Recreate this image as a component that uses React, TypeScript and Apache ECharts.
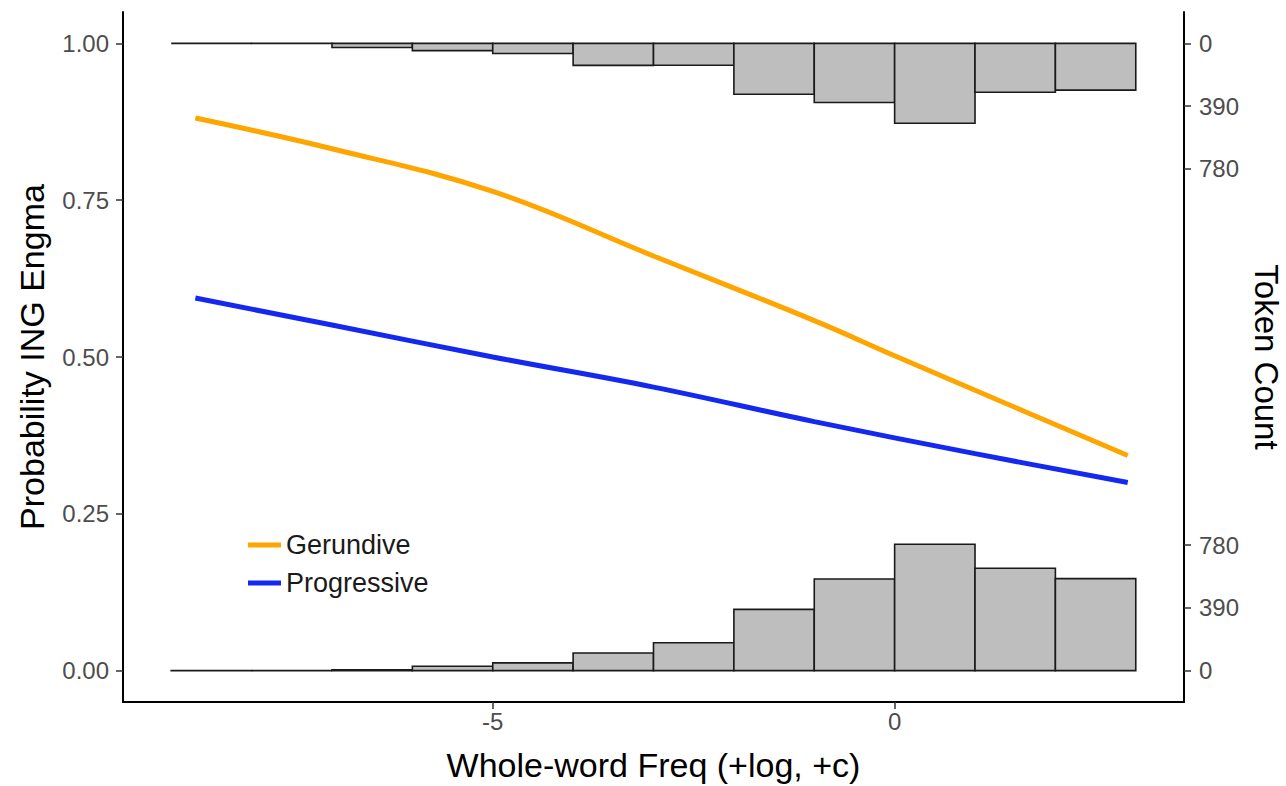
import React, { useEffect, useRef } from "react";
import * as echarts from "echarts";

// ---- data ----
const binStarts = [-9, -8, -7, -6, -5, -4, -3, -2, -1, 0, 1, 2];
const binWidth = 1;
const gerundiveCounts = [0, 1, 26, 45, 63, 137, 136, 316, 368, 497, 304, 291];
const progressiveCounts = [1, 0, 5, 27, 48, 110, 173, 381, 570, 786, 637, 572];

const gerundiveX = [-8.7, -7, -5, -3, -1, 0, 1, 2.9];
const gerundiveY = [0.881, 0.832, 0.764, 0.661, 0.558, 0.502, 0.447, 0.343];
const progressiveX = [-8.7, -7, -5, -3, -1, 1, 2.9];
const progressiveY = [0.594, 0.551, 0.5, 0.452, 0.397, 0.346, 0.3];

const xTicks = [-5, 0];
const probTicks = [0, 0.25, 0.5, 0.75, 1];
const countTicks = [0, 390, 780];
const countSpan = 0.2; // probability units covered by the largest count tick

const FONT = "Liberation Sans, Arial, Helvetica, sans-serif";
const ORANGE = "#FFA500";
const BLUE = "#1428F0";

const countToProb = (c: number) => (c / countTicks[countTicks.length - 1]) * countSpan;

export default function App() {
  const ref = useRef<HTMLDivElement>(null);

  useEffect(() => {
    if (!ref.current) return;
    const chart = echarts.init(ref.current, undefined, { renderer: "svg" });

    const topRows = binStarts.map((s, i) => [s, s + binWidth, gerundiveCounts[i]]);
    const bottomRows = binStarts.map((s, i) => [s, s + binWidth, progressiveCounts[i]]);

    const histRender = (top: boolean) => (params: any, api: any) => {
      const x0 = api.value(0);
      const x1 = api.value(1);
      const c = api.value(2);
      const base = top ? 1 : 0;
      const end = top ? 1 - countToProb(c) : countToProb(c);
      const p0 = api.coord([x0, base]);
      const p1 = api.coord([x1, end]);
      return {
        type: "rect",
        shape: {
          x: Math.min(p0[0], p1[0]),
          y: Math.min(p0[1], p1[1]),
          width: Math.abs(p1[0] - p0[0]),
          height: Math.abs(p1[1] - p0[1]),
        },
        style: { fill: "#BEBEBE", stroke: "#1A1A1A", lineWidth: 1.6 },
      };
    };

    const countValues: number[] = [];
    countTicks.forEach((c) => countValues.push(countToProb(c)));
    countTicks.forEach((c) => countValues.push(1 - countToProb(c)));

    chart.setOption({
      animation: false,
      backgroundColor: "#FFFFFF",
      textStyle: { fontFamily: FONT },
      grid: {
        left: 123,
        right: 102,
        top: 12,
        bottom: 84,
        containLabel: false,
        outerBoundsMode: "none",
      },
      legend: {
        data: ["Gerundive", "Progressive"],
        orient: "vertical",
        left: 248,
        top: 530,
        padding: 0,
        icon: "rect",
        itemWidth: 33,
        itemHeight: 5,
        itemGap: 8,
        textStyle: { fontSize: 27, color: "#1A1A1A", fontFamily: FONT, lineHeight: 30 },
      },
      xAxis: {
        type: "value",
        min: -9.6,
        max: 3.6,
        name: "Whole-word Freq (+log, +c)",
        nameLocation: "middle",
        nameGap: 46,
        nameTextStyle: { fontSize: 34, color: "#000000", fontFamily: FONT },
        splitLine: { show: false },
        axisLine: { onZero: false, lineStyle: { color: "#000000", width: 2 } },
        axisTick: { customValues: xTicks, length: 7, lineStyle: { color: "#333333", width: 1.5 } },
        axisLabel: {
          customValues: xTicks,
          fontSize: 24,
          color: "#4D4D4D",
          margin: 7,
          fontFamily: FONT,
        },
      },
      yAxis: [
        {
          type: "value",
          min: -0.05,
          max: 1.05,
          position: "left",
          name: "Probability ING Engma",
          nameLocation: "middle",
          nameGap: 74,
          nameTextStyle: { fontSize: 34, color: "#000000", fontFamily: FONT },
          splitLine: { show: false },
          axisLine: { show: true, onZero: false, lineStyle: { color: "#000000", width: 2 } },
          axisTick: { customValues: probTicks, length: 7, lineStyle: { color: "#333333", width: 1.5 } },
          axisLabel: {
            customValues: probTicks,
            formatter: (v: number) => v.toFixed(2),
            fontSize: 24,
            color: "#4D4D4D",
            margin: 14,
            fontFamily: FONT,
          },
        },
        {
          type: "value",
          min: -0.05,
          max: 1.05,
          position: "right",
          name: "Token Count",
          nameLocation: "middle",
          nameRotate: -90,
          nameGap: 64,
          nameTextStyle: { fontSize: 33, color: "#000000", fontFamily: FONT },
          splitLine: { show: false },
          axisLine: { show: true, onZero: false, lineStyle: { color: "#000000", width: 2 } },
          axisTick: { customValues: countValues, length: 7, lineStyle: { color: "#333333", width: 1.5 } },
          axisLabel: {
            customValues: countValues,
            formatter: (v: number) => {
              const off = v < 0.5 ? v : 1 - v;
              const idx = countTicks.findIndex((c) => Math.abs(countToProb(c) - off) < 1e-6);
              return idx >= 0 ? String(countTicks[idx]) : "";
            },
            fontSize: 24,
            color: "#4D4D4D",
            margin: 15,
            fontFamily: FONT,
          },
        },
      ],
      series: [
        {
          name: "hist-top",
          type: "custom",
          renderItem: histRender(true),
          data: topRows,
          encode: { x: [0, 1], y: 2 },
          silent: true,
          z: 1,
        },
        {
          name: "hist-bottom",
          type: "custom",
          renderItem: histRender(false),
          data: bottomRows,
          encode: { x: [0, 1], y: 2 },
          silent: true,
          z: 1,
        },
        {
          name: "Gerundive",
          type: "line",
          data: gerundiveX.map((x, i) => [x, gerundiveY[i]]),
          smooth: 0.4,
          showSymbol: false,
          color: ORANGE,
          lineStyle: { color: ORANGE, width: 5 },
          itemStyle: { color: ORANGE },
          z: 3,
        },
        {
          name: "Progressive",
          type: "line",
          data: progressiveX.map((x, i) => [x, progressiveY[i]]),
          smooth: 0.4,
          showSymbol: false,
          color: BLUE,
          lineStyle: { color: BLUE, width: 5 },
          itemStyle: { color: BLUE },
          z: 3,
        },
      ],
    });

    return () => chart.dispose();
  }, []);

  return (
    <div
      ref={ref}
      style={{ position: "fixed", left: 0, top: 0, width: 1286, height: 786, background: "#fff" }}
    />
  );
}
